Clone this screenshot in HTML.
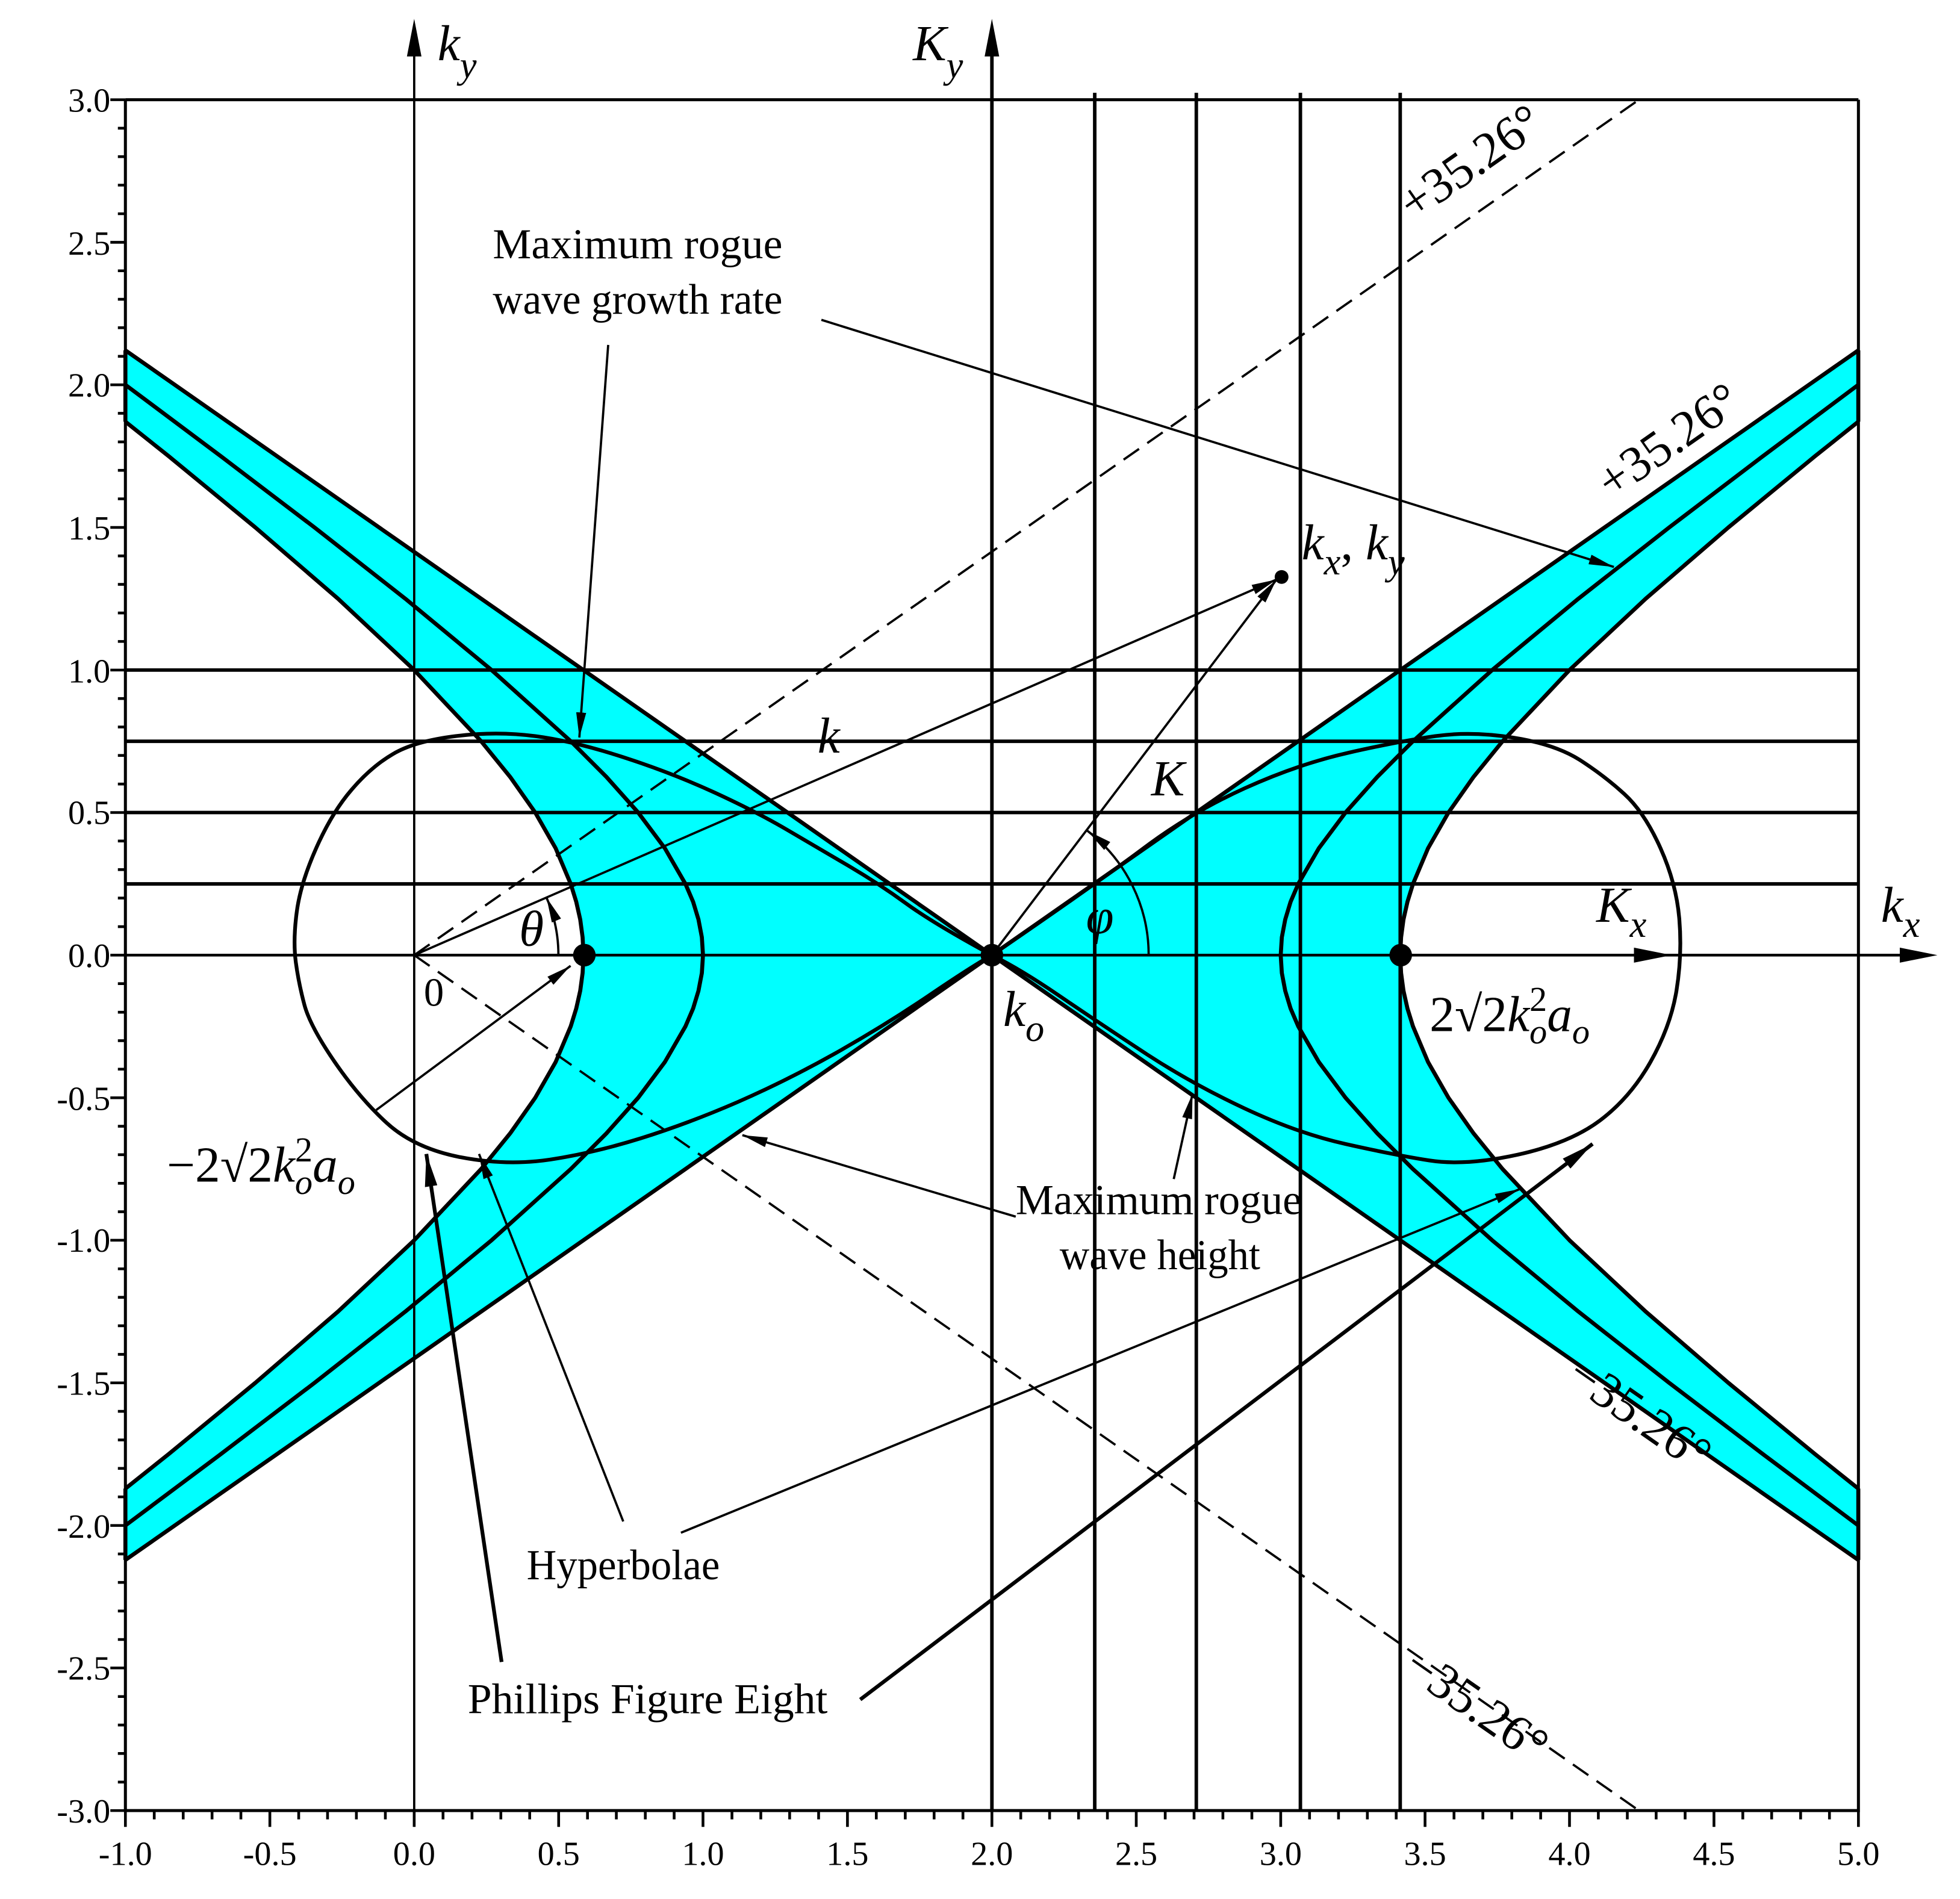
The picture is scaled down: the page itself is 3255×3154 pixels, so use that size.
<!DOCTYPE html>
<html><head><meta charset="utf-8"><style>html,body{margin:0;padding:0;background:#fff}svg{display:block}</style></head>
<body>
<svg xmlns="http://www.w3.org/2000/svg" width="3255" height="3154" viewBox="0 0 1563 1514" preserveAspectRatio="none" font-family="Liberation Serif, serif">
<defs>
<marker id="ah" viewBox="0 0 20 8" refX="20" refY="4" markerWidth="20" markerHeight="8" markerUnits="userSpaceOnUse" orient="auto"><path d="M0,0 L20,4 L0,8 Z" fill="#000"/></marker>
<marker id="ahb" viewBox="0 0 26 10" refX="26" refY="5" markerWidth="26" markerHeight="10" markerUnits="userSpaceOnUse" orient="auto"><path d="M0,0 L26,5 L0,10 Z" fill="#000"/></marker>
</defs>
<rect width="1563" height="1514" fill="#fff"/>
<g fill="#00ffff" stroke="none">
<path d="M791,761.5 L100,279.3 L100,336.2 L134.5,363.7 L203.6,420.5 L269.5,477.3 L330.3,534.2 L383.7,591 L406.8,619.4 L426.8,647.8 L443.1,676.3 L455.1,704.7 L459.5,718.9 L462.7,733.1 L464.6,747.3 L465.3,761.5 L464.6,775.7 L462.7,789.9 L459.5,804.1 L455.1,818.3 L443.1,846.7 L426.8,875.2 L406.8,903.6 L383.7,932 L330.3,988.8 L269.5,1045.7 L203.6,1102.5 L134.5,1159.3 L100,1186.8 L100,1243.7 Z"/>
<path d="M791,761.5 L1481.9,279.3 L1481.9,336.2 L1447.4,363.7 L1378.3,420.5 L1312.4,477.3 L1251.6,534.2 L1198.2,591 L1175.1,619.4 L1155.1,647.8 L1138.8,676.3 L1126.8,704.7 L1122.4,718.9 L1119.2,733.1 L1117.3,747.3 L1116.6,761.5 L1117.3,775.7 L1119.2,789.9 L1122.4,804.1 L1126.8,818.3 L1138.8,846.7 L1155.1,875.2 L1175.1,903.6 L1198.2,932 L1251.6,988.8 L1312.4,1045.7 L1378.3,1102.5 L1447.4,1159.3 L1481.9,1186.8 L1481.9,1243.7 Z"/>
</g>
<g fill="none" stroke="#000" stroke-width="3.2" stroke-linejoin="round">
<path d="M100,279.3 L1481.9,1243.7 M100,1243.7 L1481.9,279.3"/>
<path d="M100,279.3 L100,336.2 M100,1186.8 L100,1243.7 M1481.9,279.3 L1481.9,336.2 M1481.9,1186.8 L1481.9,1243.7"/>
<path d="M100,336.2 L134.5,363.7 L203.6,420.5 L269.5,477.3 L330.3,534.2 L383.7,591 L406.8,619.4 L426.8,647.8 L443.1,676.3 L455.1,704.7 L459.5,718.9 L462.7,733.1 L464.6,747.3 L465.3,761.5 L464.6,775.7 L462.7,789.9 L459.5,804.1 L455.1,818.3 L443.1,846.7 L426.8,875.2 L406.8,903.6 L383.7,932 L330.3,988.8 L269.5,1045.7 L203.6,1102.5 L134.5,1159.3 L100,1186.8"/>
<path d="M1481.9,336.2 L1447.4,363.7 L1378.3,420.5 L1312.4,477.3 L1251.6,534.2 L1198.2,591 L1175.1,619.4 L1155.1,647.8 L1138.8,676.3 L1126.8,704.7 L1122.4,718.9 L1119.2,733.1 L1117.3,747.3 L1116.6,761.5 L1117.3,775.7 L1119.2,789.9 L1122.4,804.1 L1126.8,818.3 L1138.8,846.7 L1155.1,875.2 L1175.1,903.6 L1198.2,932 L1251.6,988.8 L1312.4,1045.7 L1378.3,1102.5 L1447.4,1159.3 L1481.9,1186.8"/>
<path d="M100,306.8 L176.1,363.7 L250.8,420.5 L323.2,477.3 L392,534.2 L455.2,591 L483.6,619.4 L508.9,647.8 L530.2,676.3 L546.6,704.7 L552.7,718.9 L557,733.1 L559.7,747.3 L560.6,761.5 L559.7,775.7 L557,789.9 L552.7,804.1 L546.6,818.3 L530.2,846.7 L508.9,875.2 L483.6,903.6 L455.2,932 L392,988.8 L323.2,1045.7 L250.8,1102.5 L176.1,1159.3 L100,1216.2"/>
<path d="M1481.9,306.8 L1405.8,363.7 L1331.1,420.5 L1258.7,477.3 L1189.9,534.2 L1126.7,591 L1098.3,619.4 L1073,647.8 L1051.7,676.3 L1035.3,704.7 L1029.2,718.9 L1024.9,733.1 L1022.2,747.3 L1021.3,761.5 L1022.2,775.7 L1024.9,789.9 L1029.2,804.1 L1035.3,818.3 L1051.7,846.7 L1073,875.2 L1098.3,903.6 L1126.7,932 L1189.9,988.8 L1258.7,1045.7 L1331.1,1102.5 L1405.8,1159.3 L1481.9,1216.2"/>
</g>
<path d="M100,79.5 L1482,79.5 M100,79.5 L100,1443.5 L1482,1443.5 L1482,79.5" stroke="#000" fill="none" stroke-width="2.4"/>
<path d="M100,534.2 H1482 M100,591 H1482 M100,647.8 H1482 M100,704.7 H1482" stroke="#000" stroke-width="2.8"/>
<path d="M873,74 V1443.5 M954,74 V1443.5 M1037,74 V1443.5 M1116.6,74 V1443.5 M791,40 V1443.5" stroke="#000" stroke-width="2.8"/>
<path d="M330.3,40 V1443.5" stroke="#000" stroke-width="1.8"/>
<path d="M330.3,15 L324.5,45 L336.1,45 Z" fill="#000"/>
<path d="M791,15 L785.2,45 L796.8,45 Z" fill="#000"/>
<path d="M100,761.5 H1530" stroke="#000" stroke-width="2.2"/>
<path d="M1545,761.5 L1515,755.5 L1515,767.5 Z" fill="#000"/>
<path d="M1333,761.5 L1303,755.5 L1303,767.5 Z" fill="#000"/>
<g stroke="#000" stroke-width="1.8" stroke-dasharray="15,8" fill="none">
<path d="M330.3,761.5 L1307,79.5"/>
<path d="M330.3,761.5 L1307,1443.5"/>
</g>
<g fill="none" stroke="#000" stroke-width="3" stroke-linejoin="round">
<path d="M791,761.5 Q744.9,736.5 723,720.6 Q701.1,704.7 677,690.5 Q652.8,676.3 628.6,662.1 Q604.4,647.8 569.9,631.9 Q535.3,616 496.5,603.5 Q457.7,591 426.9,586.9 Q396,582.8 363.2,586.9 Q330.3,591 313.1,601.3 Q295.8,611.5 280.3,629.7 Q264.7,647.8 252.1,676.3 Q239.5,704.7 236.6,727.4 Q233.6,750.1 235.9,767.2 Q238.2,784.2 242.8,801.3 Q247.4,818.3 267,846.8 Q286.5,875.2 308.4,895.3 Q330.3,915.4 367.2,922.6 Q404,929.7 438.6,924.5 Q473.1,919.3 511.1,907.5 Q549.1,895.6 588.3,878.6 Q627.4,861.5 666.6,839.5 Q705.7,817.4 740.3,794 Q774.8,770.6 791,761.5"/>
<path d="M791,761.5 Q873.9,704.7 911.9,676.3 Q949.9,647.8 992.5,628.5 Q1035.1,609.2 1075.4,600.1 Q1115.7,591 1144.5,586.9 Q1173.3,582.8 1206.7,588.1 Q1240.1,593.3 1259.7,605.8 Q1279.2,618.3 1295.4,633.1 Q1311.5,647.8 1324.2,676.3 Q1336.9,704.7 1339.2,733.1 Q1341.5,761.5 1336.9,789.9 Q1332.2,818.3 1316.1,846.8 Q1300,875.2 1275.8,893.4 Q1251.6,911.5 1210.2,920.6 Q1168.7,929.7 1139.9,925.2 Q1111.1,920.6 1073.1,912.1 Q1035.1,903.6 992.5,883.7 Q949.9,863.8 911.9,838.8 Q873.9,813.8 844,793.4 Q814,772.9 791,761.5"/>
</g>
<g stroke="#000" stroke-width="2.2">
<path d="M88,79.5H100M88,193.2H100M88,306.8H100M88,420.5H100M88,534.2H100M88,647.8H100M88,761.5H100M88,875.2H100M88,988.8H100M88,1102.5H100M88,1216.2H100M88,1329.8H100M88,1443.5H100"/>
<path d="M94,102.2H100M94,124.9H100M94,147.6H100M94,170.4H100M94,215.9H100M94,238.6H100M94,261.3H100M94,284.1H100M94,329.5H100M94,352.3H100M94,375H100M94,397.7H100M94,443.2H100M94,465.9H100M94,488.7H100M94,511.4H100M94,556.9H100M94,579.6H100M94,602.3H100M94,625.1H100M94,670.5H100M94,693.3H100M94,716H100M94,738.8H100M94,784.2H100M94,807H100M94,829.7H100M94,852.4H100M94,897.9H100M94,920.6H100M94,943.4H100M94,966.1H100M94,1011.6H100M94,1034.3H100M94,1057H100M94,1079.8H100M94,1125.2H100M94,1148H100M94,1170.7H100M94,1193.4H100M94,1238.9H100M94,1261.6H100M94,1284.4H100M94,1307.1H100M94,1352.6H100M94,1375.3H100M94,1398H100M94,1420.8H100"/>
<path d="M100,1443.5v13M215.2,1443.5v13M330.3,1443.5v13M445.5,1443.5v13M560.6,1443.5v13M675.8,1443.5v13M791,1443.5v13M906.1,1443.5v13M1021.3,1443.5v13M1136.4,1443.5v13M1251.6,1443.5v13M1366.8,1443.5v13M1482,1443.5v13"/>
<path d="M123,1443.5v7M146.1,1443.5v7M169.1,1443.5v7M192.1,1443.5v7M238.2,1443.5v7M261.2,1443.5v7M284.2,1443.5v7M307.3,1443.5v7M353.3,1443.5v7M376.4,1443.5v7M399.4,1443.5v7M422.4,1443.5v7M468.5,1443.5v7M491.5,1443.5v7M514.6,1443.5v7M537.6,1443.5v7M583.7,1443.5v7M606.7,1443.5v7M629.7,1443.5v7M652.8,1443.5v7M698.8,1443.5v7M721.9,1443.5v7M744.9,1443.5v7M767.9,1443.5v7M814,1443.5v7M837,1443.5v7M860.1,1443.5v7M883.1,1443.5v7M929.2,1443.5v7M952.2,1443.5v7M975.2,1443.5v7M998.3,1443.5v7M1044.3,1443.5v7M1067.4,1443.5v7M1090.4,1443.5v7M1113.4,1443.5v7M1159.5,1443.5v7M1182.5,1443.5v7M1205.6,1443.5v7M1228.6,1443.5v7M1274.6,1443.5v7M1297.7,1443.5v7M1320.7,1443.5v7M1343.8,1443.5v7M1389.8,1443.5v7M1412.8,1443.5v7M1435.9,1443.5v7M1458.9,1443.5v7"/>
</g>
<g font-size="27" text-anchor="end" fill="#000">
<text x="88" y="89">3.0</text><text x="88" y="203">2.5</text><text x="88" y="316">2.0</text><text x="88" y="430">1.5</text><text x="88" y="544">1.0</text><text x="88" y="657">0.5</text><text x="88" y="771">0.0</text><text x="88" y="885">-0.5</text><text x="88" y="998">-1.0</text><text x="88" y="1112">-1.5</text><text x="88" y="1226">-2.0</text><text x="88" y="1339">-2.5</text><text x="88" y="1453">-3.0</text>
</g>
<g font-size="27" text-anchor="middle" fill="#000">
<text x="100" y="1487">-1.0</text><text x="215.2" y="1487">-0.5</text><text x="330.3" y="1487">0.0</text><text x="445.5" y="1487">0.5</text><text x="560.6" y="1487">1.0</text><text x="675.8" y="1487">1.5</text><text x="791" y="1487">2.0</text><text x="906.1" y="1487">2.5</text><text x="1021.3" y="1487">3.0</text><text x="1136.4" y="1487">3.5</text><text x="1251.6" y="1487">4.0</text><text x="1366.8" y="1487">4.5</text><text x="1482" y="1487">5.0</text>
</g>
<g stroke="#000" stroke-width="1.8" fill="none">
<path d="M330.3,761.5 L1018,462" marker-end="url(#ah)"/>
<path d="M791,761.5 L1018,462" marker-end="url(#ah)"/>
<path d="M445.3,761.5 A115,115 0 0 0 435.8,715.6" marker-end="url(#ah)"/>
<path d="M916,761.5 A125,125 0 0 0 867.1,662.3" marker-end="url(#ah)"/>
<path d="M485,275 L462,588" marker-end="url(#ah)"/>
<path d="M655,255 L1287,452" marker-end="url(#ah)"/>
<path d="M810,970 L592,905" marker-end="url(#ah)"/>
<path d="M936,940 L951,872" marker-end="url(#ah)"/>
<path d="M497,1213 L382,920" marker-end="url(#ah)"/>
<path d="M543,1222 L1212,948" marker-end="url(#ah)"/>
<path d="M300,885 L455,770" marker-end="url(#ah)"/>
</g>
<g stroke="#000" stroke-width="3" fill="none">
<path d="M400,1325 L340,920" marker-end="url(#ahb)"/>
<path d="M686,1355 L1270,912" marker-end="url(#ahb)"/>
</g>
<g fill="#000">
<circle cx="466" cy="761.5" r="9"/><circle cx="791" cy="761.5" r="9"/><circle cx="1117" cy="761.5" r="9"/><circle cx="1022" cy="460" r="5.5"/>
</g>
<g fill="#000" font-size="34">
<text x="393" y="206" textLength="231" lengthAdjust="spacingAndGlyphs">Maximum rogue</text>
<text x="393" y="250" textLength="231" lengthAdjust="spacingAndGlyphs">wave growth rate</text>
<text x="810" y="968" textLength="228" lengthAdjust="spacingAndGlyphs">Maximum rogue</text>
<text x="845" y="1012" textLength="160" lengthAdjust="spacingAndGlyphs">wave height</text>
<text x="420" y="1259" textLength="154" lengthAdjust="spacingAndGlyphs">Hyperbolae</text>
<text x="373" y="1366" textLength="287" lengthAdjust="spacingAndGlyphs">Phillips Figure Eight</text>
<text x="338" y="802" font-size="32">0</text>
</g>
<g fill="#000" font-size="40" font-style="italic">
<text x="349" y="48">k<tspan font-size="30" dy="14">y</tspan></text>
<text x="728" y="48">K<tspan font-size="30" dy="14">y</tspan></text>
<text x="1500" y="735">k<tspan font-size="30" dy="12">x</tspan></text>
<text x="1273" y="735">K<tspan font-size="30" dy="12">x</tspan></text>
<text x="1038" y="446">k<tspan font-size="30" dy="12">x</tspan><tspan dy="-12" font-style="normal">, </tspan>k<tspan font-size="30" dy="12">y</tspan></text>
<text x="652" y="600">k</text>
<text x="918" y="634">K</text>
<text x="800" y="818">k<tspan font-size="30" dy="12">o</tspan></text>
<text x="414" y="754">θ</text>
<text x="866" y="744">φ</text>
<text x="1140" y="822"><tspan font-style="normal">2√2</tspan>k<tspan font-size="28" dy="10">o</tspan><tspan font-size="28" font-style="normal" dx="-14" dy="-26">2</tspan><tspan dy="16">a</tspan><tspan font-size="28" dy="10">o</tspan></text>
<text x="133" y="942"><tspan font-style="normal">−2√2</tspan>k<tspan font-size="28" dy="10">o</tspan><tspan font-size="28" font-style="normal" dx="-14" dy="-26">2</tspan><tspan dy="16">a</tspan><tspan font-size="28" dy="10">o</tspan></text>
</g>
<g fill="#000" font-size="40" text-anchor="middle">
<text transform="translate(1180,140) rotate(-34.9)">+35.26°</text>
<text transform="translate(1338,362) rotate(-34.9)">+35.26°</text>
<text transform="translate(1300,1138) rotate(34.9)">−35.26°</text>
<text transform="translate(1170,1370) rotate(34.9)">−35.26°</text>
</g>
</svg>
</body></html>
